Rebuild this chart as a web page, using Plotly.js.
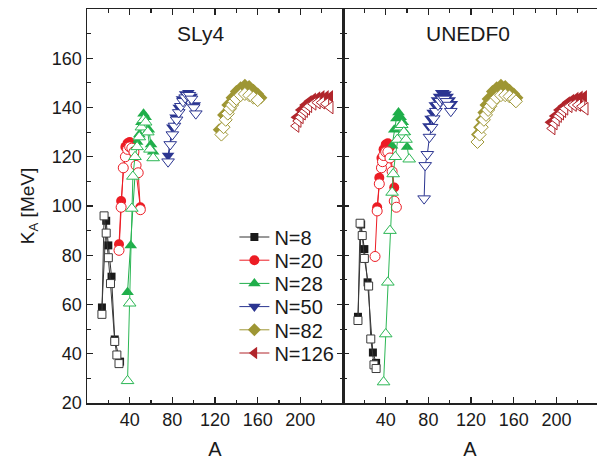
<!DOCTYPE html>
<html>
<head>
<meta charset="utf-8">
<script src="https://cdn.plot.ly/plotly-3.0.1.min.js"></script>
<style>html,body{margin:0;padding:0;background:#fff;}#chart{width:597px;height:460px;}</style>
</head>
<body>
<div id="chart"></div>
<script>
// ---------- SLy4 (left panel) ----------
const sly4_n8_fill_A  = [14, 18, 20, 23, 26, 31];
const sly4_n8_fill_K  = [58.8, 94, 84, 71.3, 45.8, 36.8];
const sly4_n8_open_A  = [14, 16, 18, 20, 22, 26, 28, 30];
const sly4_n8_open_K  = [56, 96, 89, 79, 68.5, 45, 39.5, 36];

const sly4_n20_fill_A = [30, 32, 36, 38, 40, 42, 44, 50];
const sly4_n20_fill_K = [84.5, 102, 124, 125.5, 126, 124.5, 121, 99.5];
const sly4_n20_open_A = [30, 32, 34, 36, 38, 40, 42, 44, 46, 48, 50];
const sly4_n20_open_K = [82, 99.5, 115.5, 120, 123, 124, 123.5, 122, 116.5, 113.5, 98.5];

const sly4_n28_fill_A = [38, 41, 47, 49, 51, 53, 55, 58, 60, 62];
const sly4_n28_fill_K = [65, 84, 126, 129, 134, 137.5, 136, 131, 125, 122];
const sly4_n28_open_A = [38, 40, 42, 43, 45, 47, 49, 51, 53, 55, 57, 59, 62];
const sly4_n28_open_K = [29, 60.5, 99, 112, 120, 124, 128, 132, 135, 134, 130, 123, 119.5];

const sly4_n50_fill_A = [76, 80, 83, 86, 89, 92, 95, 98, 101];
const sly4_n50_fill_K = [120.5, 132, 136, 140, 143.5, 145.5, 146, 144.5, 141];
const sly4_n50_open_A = [76, 78, 80, 82, 84, 86, 88, 90, 92, 94, 96, 98, 100, 102];
const sly4_n50_open_K = [118, 125, 129, 132.5, 135, 138, 140.5, 142.5, 144, 145, 145, 143.5, 140, 137.5];

const sly4_n82_fill_A = [124, 128, 132, 136, 140, 144, 148, 152, 156, 160, 163];
const sly4_n82_fill_K = [131, 137, 141, 144, 146.5, 148, 149, 148.5, 147, 145.5, 144];
const sly4_n82_open_A = [126, 128, 130, 132, 134, 136, 138, 140, 144, 148, 152, 156, 160];
const sly4_n82_open_K = [129, 132, 135, 137.5, 139.5, 141, 142.5, 143.5, 145, 145.5, 145, 144, 143];

const sly4_n126_fill_A = [196, 200, 204, 208, 212, 216, 220, 224, 228];
const sly4_n126_fill_K = [136, 139, 141, 142.5, 143.5, 144, 144.5, 144.5, 144.5];
const sly4_n126_open_A = [196, 198, 200, 202, 204, 206, 208, 212, 216, 220, 224, 228];
const sly4_n126_open_K = [132.5, 134.5, 136, 137.5, 138.5, 139.5, 140.5, 141.5, 142, 142, 141.5, 140];

// ---------- UNEDF0 (right panel) ----------
const unedf_n8_fill_A  = [14, 17, 20, 23, 28, 31];
const unedf_n8_fill_K  = [55, 92.5, 82.5, 69, 40.5, 36.3];
const unedf_n8_open_A  = [14, 16, 18, 20, 24, 26, 29, 31];
const unedf_n8_open_K  = [53.5, 93, 88, 78.7, 67.5, 46, 35.5, 34];

const unedf_n20_fill_A = [32, 34, 36, 38, 40, 42, 44, 48];
const unedf_n20_fill_K = [99.5, 111.5, 119.5, 123, 125, 125.5, 124, 107.5];
const unedf_n20_open_A = [30, 32, 34, 36, 37, 38, 40, 42, 44, 46, 48, 50];
const unedf_n20_open_K = [79.5, 98, 109, 115.5, 118, 120.5, 122, 122, 119.5, 114, 102, 99.5];

const unedf_n28_fill_A = [46, 48, 50, 52, 54, 56, 58, 60];
const unedf_n28_fill_K = [124.5, 131, 135.5, 138, 136, 134, 130, 124];
const unedf_n28_open_A = [38, 40, 42, 44, 46, 47, 49, 51, 53, 55, 57, 59, 62];
const unedf_n28_open_K = [28.5, 48, 69, 90, 105.5, 113, 120, 127, 132, 133, 130, 127, 119];

const unedf_n50_fill_A = [80, 82, 84, 86, 88, 90, 92, 94, 96, 98, 100, 102];
const unedf_n50_fill_K = [132.5, 135.5, 138, 141, 143, 144.5, 146, 146, 145.5, 144.5, 143, 141.5];
const unedf_n50_open_A = [76, 77, 79, 81, 83, 85, 87, 89, 91, 93, 95, 97, 99, 101];
const unedf_n50_open_K = [103, 116.5, 121, 128, 132, 135.5, 138.5, 141, 142.5, 143.5, 143.5, 142.5, 141, 138.5];

const unedf_n82_fill_A = [126, 128, 130, 132, 134, 136, 140, 144, 148, 152, 156, 160, 163];
const unedf_n82_fill_K = [129, 132, 135, 138, 141, 143.5, 146.5, 148, 149, 148.5, 147, 145.5, 144];
const unedf_n82_open_A = [126, 128, 130, 132, 134, 136, 138, 140, 144, 148, 152, 156, 160, 162];
const unedf_n82_open_K = [126, 129, 132, 135, 137, 139, 140.5, 142, 144, 145, 145, 144.5, 143.5, 142.5];

const unedf_n126_fill_A = [194, 198, 202, 206, 210, 214, 218, 222, 226];
const unedf_n126_fill_K = [134, 136.5, 139, 140.5, 142, 143, 143.8, 144.3, 144.5];
const unedf_n126_open_A = [196, 198, 200, 202, 204, 206, 208, 212, 216, 220, 224, 227];
const unedf_n126_open_K = [131.5, 133.5, 135, 136.5, 137.5, 138.5, 139.5, 140.5, 141, 141, 140.5, 139.5];

// ---------- labels / ticks ----------
const seriesNames = ['N=8', 'N=20', 'N=28', 'N=50', 'N=82', 'N=126'];
const panelNames = ['SLy4', 'UNEDF0'];
const xTickVals = [40, 80, 120, 160, 200];
const yTickVals = [20, 40, 60, 80, 100, 120, 140, 160];

// ---------- styles ----------
const styles = [
  {color: '#1a1a1a', line: '#333333', openLine: '#3a3a3a', sym: 'square', size: 8},
  {color: '#ec1c24', line: '#ec1c24', openLine: '#ec1c24', sym: 'circle', size: 10},
  {color: '#1fae4a', line: '#1fae4a', openLine: '#2cb755', sym: 'triangle-up', size: 11},
  {color: '#2b3591', line: '#2b3591', openLine: '#2b3591', sym: 'triangle-down', size: 11},
  {color: '#9e9634', line: '#9e9634', openLine: '#9e9634', sym: 'diamond', size: 10},
  {color: '#b1252b', line: '#b1252b', openLine: '#b1252b', sym: 'triangle-left', size: 11}
];

const sly4Fill = [[sly4_n8_fill_A, sly4_n8_fill_K], [sly4_n20_fill_A, sly4_n20_fill_K], [sly4_n28_fill_A, sly4_n28_fill_K],
                  [sly4_n50_fill_A, sly4_n50_fill_K], [sly4_n82_fill_A, sly4_n82_fill_K], [sly4_n126_fill_A, sly4_n126_fill_K]];
const sly4Open = [[sly4_n8_open_A, sly4_n8_open_K], [sly4_n20_open_A, sly4_n20_open_K], [sly4_n28_open_A, sly4_n28_open_K],
                  [sly4_n50_open_A, sly4_n50_open_K], [sly4_n82_open_A, sly4_n82_open_K], [sly4_n126_open_A, sly4_n126_open_K]];
const unedfFill = [[unedf_n8_fill_A, unedf_n8_fill_K], [unedf_n20_fill_A, unedf_n20_fill_K], [unedf_n28_fill_A, unedf_n28_fill_K],
                   [unedf_n50_fill_A, unedf_n50_fill_K], [unedf_n82_fill_A, unedf_n82_fill_K], [unedf_n126_fill_A, unedf_n126_fill_K]];
const unedfOpen = [[unedf_n8_open_A, unedf_n8_open_K], [unedf_n20_open_A, unedf_n20_open_K], [unedf_n28_open_A, unedf_n28_open_K],
                   [unedf_n50_open_A, unedf_n50_open_K], [unedf_n82_open_A, unedf_n82_open_K], [unedf_n126_open_A, unedf_n126_open_K]];

const legendIds = ['legend', 'legend2', 'legend3', 'legend4', 'legend5', 'legend6'];

const traces = [];
function addPanel(fillSets, openSets, xa, ya, showLeg) {
  fillSets.forEach((d, i) => {
    const s = styles[i];
    traces.push({
      type: 'scatter', mode: 'lines+markers', x: d[0], y: d[1], xaxis: xa, yaxis: ya,
      name: seriesNames[i], showlegend: showLeg, legend: legendIds[i],
      line: {color: s.line, width: 1},
      marker: {symbol: s.sym, size: s.size, color: s.color, line: {width: 0}}
    });
  });
  openSets.forEach((d, i) => {
    const s = styles[i];
    traces.push({
      type: 'scatter', mode: 'lines+markers', x: d[0], y: d[1], xaxis: xa, yaxis: ya,
      name: seriesNames[i], showlegend: false, legend: legendIds[i],
      line: {color: s.openLine, width: 1},
      marker: {symbol: s.sym, size: s.size, color: '#ffffff', line: {width: 1, color: s.openLine}}
    });
  });
}
addPanel(sly4Fill, sly4Open, 'x', 'y', true);
addPanel(unedfFill, unedfOpen, 'x2', 'y2', false);

const font = {family: '"Liberation Sans", Arial, sans-serif', color: '#1a1a1a'};
const axisCommon = {
  showgrid: false, zeroline: false, showline: true, linecolor: '#222', linewidth: 1.5,
  ticks: 'inside', ticklen: 6, tickwidth: 1.2, tickcolor: '#222',
  tickfont: Object.assign({size: 18}, font)
};
const xCommon = Object.assign({}, axisCommon, {
  range: [0, 240], tickmode: 'array', tickvals: xTickVals, mirror: 'ticks',
  minor: {tickmode: 'linear', tick0: 0, dtick: 20, ticks: 'inside', ticklen: 3.5, tickwidth: 1.2, tickcolor: '#222'},
  title: {text: 'A', font: Object.assign({size: 20}, font), standoff: 16}
});
const yCommon = Object.assign({}, axisCommon, {
  range: [20, 180], tickmode: 'array', tickvals: yTickVals,
  minor: {tickmode: 'linear', tick0: 0, dtick: 10, ticks: 'inside', ticklen: 3.5, tickwidth: 1.2, tickcolor: '#222'}
});

const layout = {
  width: 597, height: 460,
  margin: {l: 87, r: 0, t: 9, b: 57},
  paper_bgcolor: '#ffffff', plot_bgcolor: '#ffffff',
  font: font,
  showlegend: true,
  xaxis: Object.assign({}, xCommon, {domain: [0, 0.502], anchor: 'y'}),
  xaxis2: Object.assign({}, xCommon, {domain: [0.502, 1], anchor: 'y2', range: [0, 238]}),
  yaxis: Object.assign({}, yCommon, {anchor: 'x', mirror: 'ticks',
           title: {text: 'K<sub>A</sub> [MeV]', font: Object.assign({size: 19}, font), standoff: 12}}),
  yaxis2: Object.assign({}, yCommon, {anchor: 'x2', matches: 'y', showticklabels: false, mirror: false}),
  annotations: [
    {text: panelNames[0], xref: 'x', yref: 'y', x: 106, y: 170, showarrow: false, font: Object.assign({size: 21}, font)},
    {text: panelNames[1], xref: 'x2', yref: 'y', x: 117, y: 170, showarrow: false, font: Object.assign({size: 21}, font)}
  ]
};

// legend rows: one legend per series, spaced like the reference
const legendRowPx = [237, 260.2, 283.4, 306.6, 329.8, 353];
legendIds.forEach((id, i) => {
  layout[id] = {
    x: 0.289, xanchor: 'left', y: (403 - legendRowPx[i]) / 394, yanchor: 'middle',
    bgcolor: 'rgba(0,0,0,0)', borderwidth: 0,
    font: Object.assign({size: 20}, font), itemwidth: 30
  };
});

Plotly.newPlot('chart', traces, layout, {displayModeBar: false, staticPlot: true});
</script>
</body>
</html>
